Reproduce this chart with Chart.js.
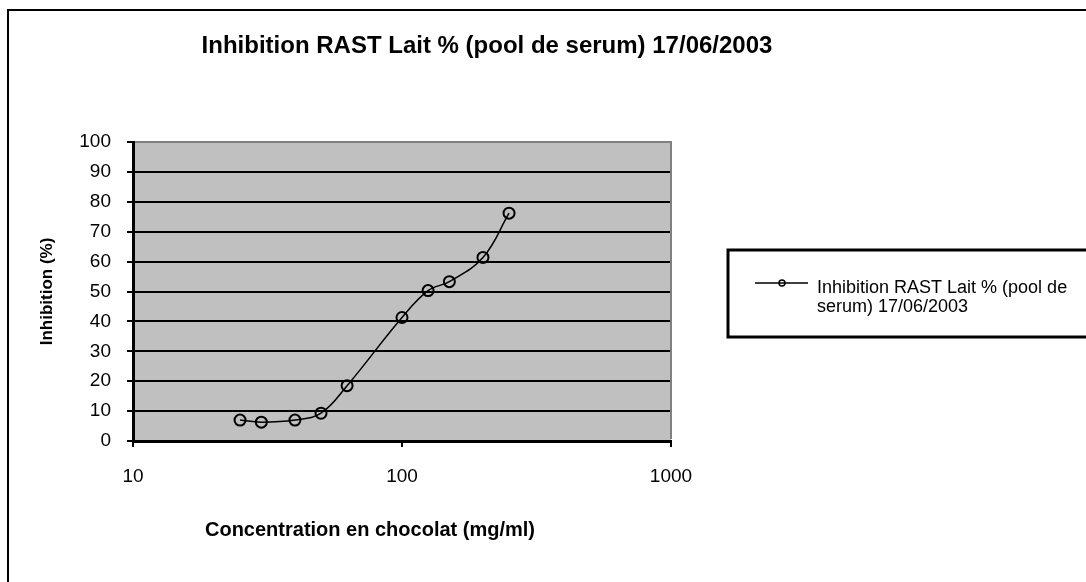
<!DOCTYPE html>
<html>
<head>
<meta charset="utf-8">
<script src="https://cdn.jsdelivr.net/npm/chart.js@4/dist/chart.umd.min.js"></script>
<style>
html,body{margin:0;padding:0;background:#fff;}
#wrap{width:1086px;height:582px;}
</style>
</head>
<body>
<div id="wrap"><canvas id="c" width="1086" height="582"></canvas></div>
<script>
const chartTitle = 'Inhibition RAST Lait % (pool de serum) 17/06/2003';
const seriesLabel = 'Inhibition RAST Lait % (pool de serum) 17/06/2003';
const legendLines = ['Inhibition RAST Lait % (pool de', 'serum) 17/06/2003'];
const xAxisTitle = 'Concentration en chocolat (mg/ml)';
const yAxisTitle = 'Inhibition (%)';
const concentrations = [25, 30, 40, 50, 62.5, 100, 125, 150, 200, 250];
const inhibition = [7, 6.3, 7, 9.3, 18.5, 41.3, 50.3, 53.3, 61.4, 76.2];
const xTickValues = [10, 100, 1000];
const yTickValues = [0, 10, 20, 30, 40, 50, 60, 70, 80, 90, 100];

const FONT = '"Liberation Sans", Arial, Helvetica, sans-serif';
Chart.defaults.font.family = FONT;
Chart.defaults.color = '#000';

const decor = {
  id: 'decor',
  beforeDraw(chart) {
    const ctx = chart.ctx, a = chart.chartArea;
    ctx.save();
    ctx.fillStyle = '#fff';
    ctx.fillRect(0, 0, chart.width, chart.height);
    ctx.strokeStyle = '#000';
    ctx.lineWidth = 2;
    ctx.beginPath();
    ctx.moveTo(8, chart.height + 5);
    ctx.lineTo(8, 10);
    ctx.lineTo(chart.width + 5, 10);
    ctx.stroke();
    ctx.fillStyle = '#c0c0c0';
    ctx.fillRect(a.left, a.top, a.right - a.left, a.bottom - a.top);
    ctx.restore();
  },
  beforeDatasetsDraw(chart) {
    const ctx = chart.ctx, a = chart.chartArea;
    ctx.save();
    ctx.strokeStyle = '#808080';
    ctx.lineWidth = 2;
    ctx.beginPath();
    ctx.moveTo(a.left + 2, a.top);
    ctx.lineTo(a.right, a.top);
    ctx.lineTo(a.right, a.bottom - 2);
    ctx.stroke();
    ctx.restore();
  },
  afterDraw(chart) {
    const ctx = chart.ctx, a = chart.chartArea;
    ctx.save();
    ctx.fillStyle = '#000';
    ctx.font = 'bold 24px ' + FONT;
    ctx.textAlign = 'center';
    ctx.textBaseline = 'middle';
    ctx.fillText(chartTitle, 487, 46);
    ctx.font = 'bold 20px ' + FONT;
    ctx.fillText(xAxisTitle, 370, 530);
    ctx.save();
    ctx.translate(47, (a.top + a.bottom) / 2);
    ctx.rotate(-Math.PI / 2);
    ctx.font = 'bold 17px ' + FONT;
    ctx.fillText(yAxisTitle, 0, 0);
    ctx.restore();
    ctx.strokeStyle = '#000';
    ctx.lineWidth = 3;
    ctx.strokeRect(728, 250, 420, 87);
    ctx.lineWidth = 1.5;
    ctx.beginPath();
    ctx.moveTo(755, 283);
    ctx.lineTo(808, 283);
    ctx.stroke();
    ctx.beginPath();
    ctx.arc(782, 283, 3, 0, Math.PI * 2);
    ctx.stroke();
    ctx.font = '18px ' + FONT;
    ctx.textAlign = 'left';
    ctx.textBaseline = 'alphabetic';
    ctx.fillText(legendLines[0], 817, 293);
    ctx.fillText(legendLines[1], 817, 312);
    ctx.restore();
  }
};

new Chart(document.getElementById('c'), {
  type: 'line',
  data: {
    datasets: [{
      label: seriesLabel,
      data: concentrations.map((x, i) => ({ x: x, y: inhibition[i] })),
      borderColor: '#000',
      borderWidth: 1.5,
      tension: 0.4,
      fill: false,
      pointRadius: 5.5,
      pointBorderWidth: 2,
      pointBorderColor: '#000',
      pointBackgroundColor: 'rgba(0,0,0,0)'
    }]
  },
  options: {
    responsive: false,
    animation: false,
    events: [],
    layout: { padding: { left: 0, right: 415, top: 142, bottom: 0 } },
    plugins: { legend: { display: false }, title: { display: false }, tooltip: { enabled: false } },
    scales: {
      x: {
        type: 'logarithmic',
        min: 10, max: 1000,
        afterBuildTicks: s => { s.ticks = xTickValues.map(v => ({ value: v })); },
        afterFit: s => { s.height = 582 - 441; },
        ticks: {
          color: '#000', font: { size: 19 }, padding: 18,
          maxRotation: 0, autoSkip: false,
          callback: v => String(v)
        },
        grid: { drawOnChartArea: false, drawTicks: true, tickLength: 6, color: '#000', lineWidth: 2 },
        border: { color: '#000', width: 3 }
      },
      y: {
        min: 0, max: 100,
        afterBuildTicks: s => { s.ticks = yTickValues.map(v => ({ value: v })); },
        afterFit: s => { s.width = 133; },
        ticks: { color: '#000', font: { size: 19 }, padding: 16, callback: v => String(v) },
        grid: { color: '#000', lineWidth: 2, tickLength: 6 },
        border: { color: '#000', width: 3 }
      }
    }
  },
  plugins: [decor]
});
</script>
</body>
</html>
